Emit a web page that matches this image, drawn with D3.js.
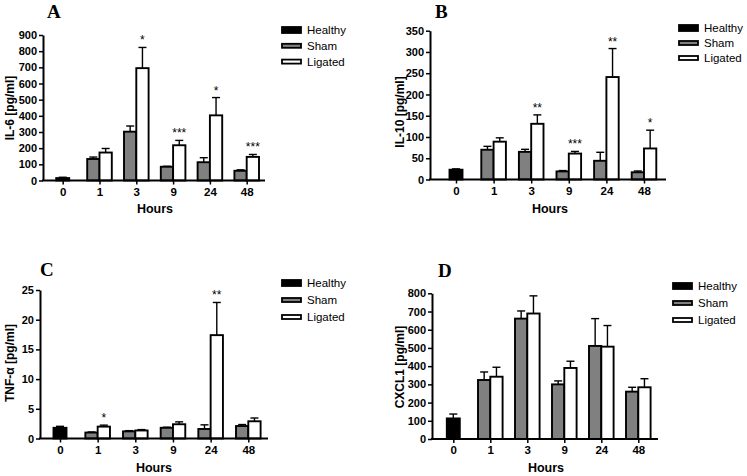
<!DOCTYPE html>
<html><head><meta charset="utf-8">
<script src="https://cdn.jsdelivr.net/npm/d3@7"></script>
<style>
body{margin:0;background:#fff;}
svg{display:block;font-family:"Liberation Sans",Arial,sans-serif;}
</style></head>
<body>
<svg id="chart" width="747" height="476"></svg>
<script>
// ---------- DATA ----------
const categories = ["0", "1", "3", "9", "24", "48"];
const seriesNames = ["Healthy", "Sham", "Ligated"];

// Panel A: IL-6
const il6Healthy    = [15, null, null, null, null, null];
const il6HealthyErr = [5, null, null, null, null, null];
const il6Sham       = [null, 133, 302, 85, 113, 60];
const il6ShamErr    = [null, 12, 35, 3, 28, 6];
const il6Ligated    = [null, 173, 695, 218, 403, 146];
const il6LigatedErr = [null, 25, 128, 30, 110, 15];
const il6Stars      = ["", "", "*", "***", "*", "***"];
const il6Ticks      = [0, 100, 200, 300, 400, 500, 600, 700, 800, 900];

// Panel B: IL-10
const il10Healthy    = [23, null, null, null, null, null];
const il10HealthyErr = [2, null, null, null, null, null];
const il10Sham       = [null, 70, 65, 19, 44, 17];
const il10ShamErr    = [null, 8, 6, 2, 20, 3];
const il10Ligated    = [null, 89, 131, 61, 241, 73];
const il10LigatedErr = [null, 9, 21, 5, 67, 43];
const il10Stars      = ["", "", "**", "***", "**", "*"];
const il10Ticks      = [0, 50, 100, 150, 200, 250, 300, 350];

// Panel C: TNF-alpha
const tnfHealthy    = [1.8, null, null, null, null, null];
const tnfHealthyErr = [0.25, null, null, null, null, null];
const tnfSham       = [null, 1.0, 1.2, 1.8, 1.6, 2.1];
const tnfShamErr    = [null, 0.1, 0.12, 0.1, 0.7, 0.25];
const tnfLigated    = [null, 2.0, 1.35, 2.4, 17.4, 2.9];
const tnfLigatedErr = [null, 0.25, 0.15, 0.4, 5.5, 0.55];
const tnfStars      = ["", "*", "", "", "**", ""];
const tnfTicks      = [0, 5, 10, 15, 20, 25];

// Panel D: CXCL1
const cxclHealthy    = [113, null, null, null, null, null];
const cxclHealthyErr = [24, null, null, null, null, null];
const cxclSham       = [null, 324, 661, 300, 511, 260];
const cxclShamErr    = [null, 44, 42, 19, 150, 24];
const cxclLigated    = [null, 342, 689, 390, 507, 284];
const cxclLigatedErr = [null, 52, 97, 37, 116, 47];
const cxclStars      = ["", "", "", "", "", ""];
const cxclTicks      = [0, 100, 200, 300, 400, 500, 600, 700, 800];

// ---------- LAYOUT ----------
const fills = {Healthy: "#000000", Sham: "#808080", Ligated: "#ffffff"};
const panels = [
  {letter: "A", lx: 47, ly: 18, ytitle: "IL-6 [pg/ml]", ytx: 10, yty: 108,
   y0: 180.5, y1: 35, ax0: 43, ax1: 265, c0: 62.7, c5: 246.7, hx: 155, hy: 213,
   legX: 282, legY: 30, legDy: 15.8, textX: 307,
   h: il6Healthy, he: il6HealthyErr, s: il6Sham, se: il6ShamErr, l: il6Ligated, le: il6LigatedErr,
   stars: il6Stars, ticks: il6Ticks},
  {letter: "B", lx: 435, ly: 18, ytitle: "IL-10 [pg/ml]", ytx: 400, yty: 112,
   y0: 179.5, y1: 30.7, ax0: 430, ax1: 666, c0: 456, c5: 644, hx: 550, hy: 213,
   legX: 679, legY: 28, legDy: 15, textX: 704,
   h: il10Healthy, he: il10HealthyErr, s: il10Sham, se: il10ShamErr, l: il10Ligated, le: il10LigatedErr,
   stars: il10Stars, ticks: il10Ticks},
  {letter: "C", lx: 40, ly: 276, ytitle: "TNF-α [pg/ml]", ytx: 10, yty: 363,
   y0: 438.5, y1: 290, ax0: 40, ax1: 268, c0: 60, c5: 248.3, hx: 154, hy: 472,
   legX: 282, legY: 283, legDy: 17, textX: 307,
   h: tnfHealthy, he: tnfHealthyErr, s: tnfSham, se: tnfShamErr, l: tnfLigated, le: tnfLigatedErr,
   stars: tnfStars, ticks: tnfTicks},
  {letter: "D", lx: 438, ly: 277, ytitle: "CXCL1 [pg/ml]", ytx: 400, yty: 367,
   y0: 439, y1: 293.3, ax0: 432, ax1: 658, c0: 453.3, c5: 638.3, hx: 546, hy: 472,
   legX: 673, legY: 286, legDy: 17, textX: 698,
   h: cxclHealthy, he: cxclHealthyErr, s: cxclSham, se: cxclShamErr, l: cxclLigated, le: cxclLigatedErr,
   stars: cxclStars, ticks: cxclTicks}
];

const svg = d3.select("#chart");
const bw = 12.3;

panels.forEach(p => {
  const g = svg.append("g");
  const y = d3.scaleLinear().domain([0, d3.max(p.ticks)]).range([p.y0, p.y1]);
  const x = d3.scalePoint().domain(categories).range([p.c0, p.c5]);

  // build bar records
  const bars = [];
  categories.forEach((c, i) => {
    const cx = x(c);
    if (p.h[i] != null) bars.push({series: "Healthy", x: cx - 6.5, w: 13, v: p.h[i], e: p.he[i], star: ""});
    if (p.s[i] != null) bars.push({series: "Sham", x: cx - bw, w: bw, v: p.s[i], e: p.se[i], star: ""});
    if (p.l[i] != null) bars.push({series: "Ligated", x: cx, w: bw, v: p.l[i], e: p.le[i], star: p.stars[i]});
  });

  // error bars (behind bars)
  const eb = g.append("g").attr("stroke", "#000").attr("stroke-width", 1.4);
  bars.forEach(b => {
    const mx = b.x + b.w / 2;
    eb.append("line").attr("x1", mx).attr("x2", mx).attr("y1", y(b.v)).attr("y2", y(b.v + b.e));
    eb.append("line").attr("x1", mx - 4).attr("x2", mx + 4).attr("y1", y(b.v + b.e)).attr("y2", y(b.v + b.e));
  });

  // bars
  g.append("g").selectAll("rect").data(bars).join("rect")
    .attr("x", d => d.x).attr("width", d => d.w)
    .attr("y", d => y(d.v)).attr("height", d => p.y0 - y(d.v))
    .attr("fill", d => fills[d.series]).attr("stroke", "#000").attr("stroke-width", 1.9);

  // stars
  g.append("g").selectAll("text").data(bars.filter(b => b.star)).join("text")
    .attr("x", d => d.x + d.w / 2).attr("y", d => y(d.v + d.e) - 3)
    .attr("text-anchor", "middle").attr("font-size", 12).text(d => d.star);

  // y axis
  const ya = g.append("g").attr("transform", `translate(${p.ax0},0)`)
    .call(d3.axisLeft(y).tickValues(p.ticks).tickSize(4).tickSizeOuter(0).tickPadding(2));
  ya.select(".domain").attr("stroke-width", 2);
  ya.selectAll(".tick line").attr("stroke-width", 1.5);
  ya.selectAll(".tick text").attr("font-size", 11).attr("font-weight", "bold")
    .attr("font-family", "Liberation Sans, Arial, sans-serif").attr("fill", "#000");

  // x axis
  const xa = g.append("g").attr("transform", `translate(0,${p.y0})`)
    .call(d3.axisBottom(x).tickSize(4).tickSizeOuter(0).tickPadding(3));
  xa.select(".domain").remove();
  xa.append("line").attr("x1", p.ax0 - 1).attr("x2", p.ax1).attr("y1", 0).attr("y2", 0)
    .attr("stroke", "#000").attr("stroke-width", 2);
  xa.selectAll(".tick line").attr("stroke-width", 1.5);
  xa.selectAll(".tick text").attr("font-size", 11.5).attr("font-weight", "bold")
    .attr("font-family", "Liberation Sans, Arial, sans-serif").attr("fill", "#000");

  // titles
  g.append("text").attr("x", p.hx).attr("y", p.hy).attr("text-anchor", "middle")
    .attr("font-size", 12.5).attr("font-weight", "bold").text("Hours");
  g.append("text").attr("transform", `translate(${p.ytx + 4},${p.yty}) rotate(-90)`)
    .attr("text-anchor", "middle").attr("font-size", 12).attr("font-weight", "bold").text(p.ytitle);
  g.append("text").attr("x", p.lx).attr("y", p.ly)
    .attr("font-family", "Liberation Serif, Times New Roman, serif")
    .attr("font-size", 19).attr("font-weight", "bold").text(p.letter);

  // legend
  const lg = g.append("g");
  seriesNames.forEach((s, i) => {
    const cy = p.legY + i * p.legDy;
    const hh = s === "Healthy" ? 6 : 4;
    lg.append("rect").attr("x", p.legX).attr("y", cy - hh / 2).attr("width", 19).attr("height", hh)
      .attr("fill", fills[s]).attr("stroke", "#000").attr("stroke-width", 1.8);
    lg.append("text").attr("x", p.textX).attr("y", cy + 4).attr("font-size", 11.5).text(s);
  });
});
</script>
</body></html>
